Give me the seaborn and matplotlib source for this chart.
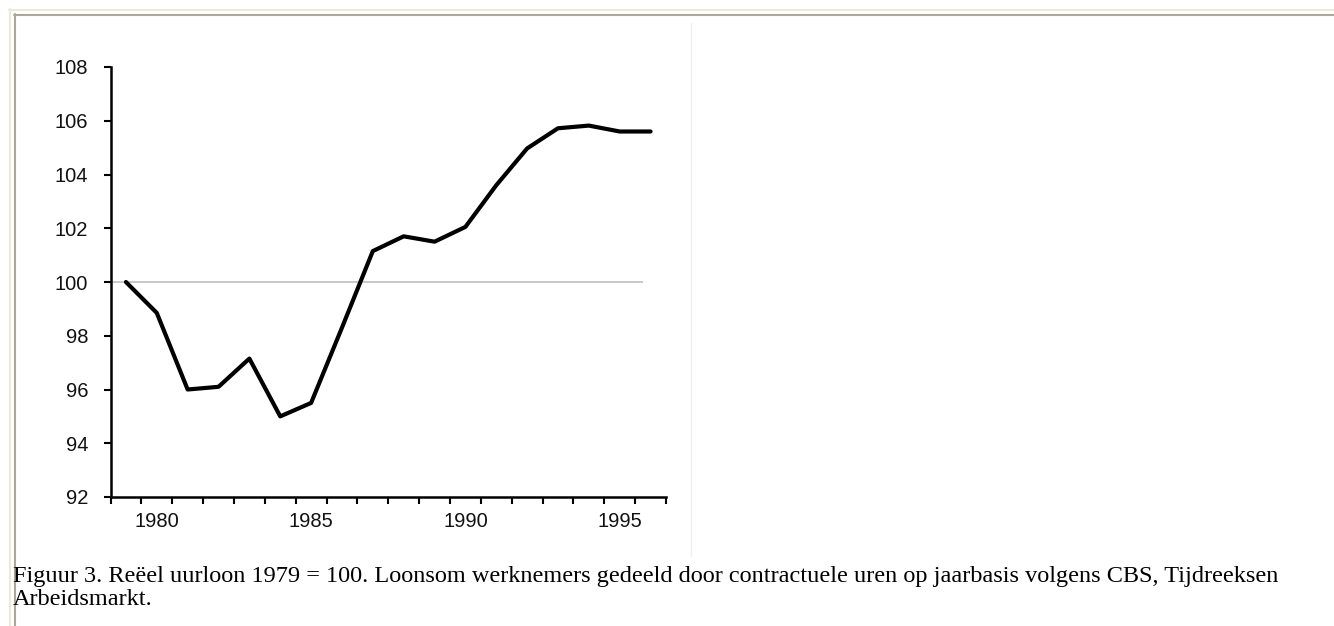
import matplotlib
matplotlib.use("Agg")
import matplotlib.pyplot as plt
import seaborn as sns
import pandas as pd
import numpy as np
from matplotlib.ticker import FixedLocator, NullFormatter
from matplotlib.lines import Line2D

years = [1979, 1980, 1981, 1982, 1983, 1984, 1985, 1986, 1987, 1988,
         1989, 1990, 1991, 1992, 1993, 1994, 1995, 1996]
wage_index = [100.0, 98.85, 96.0, 96.1, 97.15, 95.0, 95.5, 98.3, 101.15, 101.7,
              101.5, 102.05, 103.6, 104.97, 105.72, 105.82, 105.6, 105.6]
y_ticks = [92, 94, 96, 98, 100, 102, 104, 106, 108]
x_labels = [1980, 1985, 1990, 1995]
caption = ("Figuur 3. Reëel uurloon 1979 = 100. Loonsom werknemers gedeeld door "
           "contractuele uren op jaarbasis volgens CBS, Tijdreeksen\nArbeidsmarkt.")

df = pd.DataFrame({"jaar": years, "index": wage_index})

sns.set_theme(style="white")
plt.rcParams["font.family"] = ["Liberation Sans", "DejaVu Sans"]

W, H = 1334, 626
fig = plt.figure(figsize=(W / 100, H / 100), dpi=100)
fig.patch.set_facecolor("white")

# page borders
fig.add_artist(Line2D([9 / W, 1], [1 - 9.5 / H, 1 - 9.5 / H], color="#ece9d8", lw=1.5))
fig.add_artist(Line2D([9.5 / W, 9.5 / W], [0, 1 - 9 / H], color="#ece9d8", lw=1.5))
fig.add_artist(Line2D([14 / W, 1], [1 - 14.5 / H, 1 - 14.5 / H], color="#aca899", lw=1.5))
fig.add_artist(Line2D([14.5 / W, 14.5 / W], [0, 1 - 14 / H], color="#aca899", lw=1.5))
# faint right edge of the chart image
fig.add_artist(Line2D([691 / W, 691 / W], [1 - 556 / H, 1 - 23 / H], color="#f0f0f0", lw=1))

left, right, top, bottom = 110.5, 666, 67, 497
ax = fig.add_axes([left / W, 1 - bottom / H, (right - left) / W, (bottom - top) / H])
ax.set_facecolor("white")

ax.hlines(100, 1978.5, 1995.75, color="#c8c8c8", lw=1.4, zorder=1)
sns.lineplot(data=df, x="jaar", y="index", ax=ax, color="black", lw=3.0, zorder=3)

ax.set_xlim(1978.5, 1996.5)
ax.set_ylim(92, 108)
ax.set_xlabel("")
ax.set_ylabel("")

ax.set_yticks(y_ticks)
ax.set_yticklabels([str(v) for v in y_ticks])
ax.set_xticks(x_labels)
ax.set_xticklabels([str(v) for v in x_labels])
ax.xaxis.set_minor_locator(FixedLocator(np.arange(1978.5, 1997.0, 1.0)))
ax.xaxis.set_minor_formatter(NullFormatter())

ax.tick_params(axis="y", which="major", direction="out", length=5, width=1.5,
               color="black", labelsize=14.5, labelcolor="#111111", pad=11, left=True)
ax.tick_params(axis="x", which="major", length=0, labelsize=14.5,
               labelcolor="#111111", pad=11, bottom=True)
ax.tick_params(axis="x", which="minor", direction="out", length=5, width=1.5,
               color="black", bottom=True)

for s in ["top", "right"]:
    ax.spines[s].set_visible(False)
for s in ["left", "bottom"]:
    ax.spines[s].set_color("black")
    ax.spines[s].set_linewidth(1.8)

fig.text(13 / W, 1 - 566 / H, caption, ha="left", va="top", fontsize=17.5,
         family=["Liberation Serif", "DejaVu Serif"], color="black", linespacing=1.12)

fig.savefig("out.png", dpi=100)
